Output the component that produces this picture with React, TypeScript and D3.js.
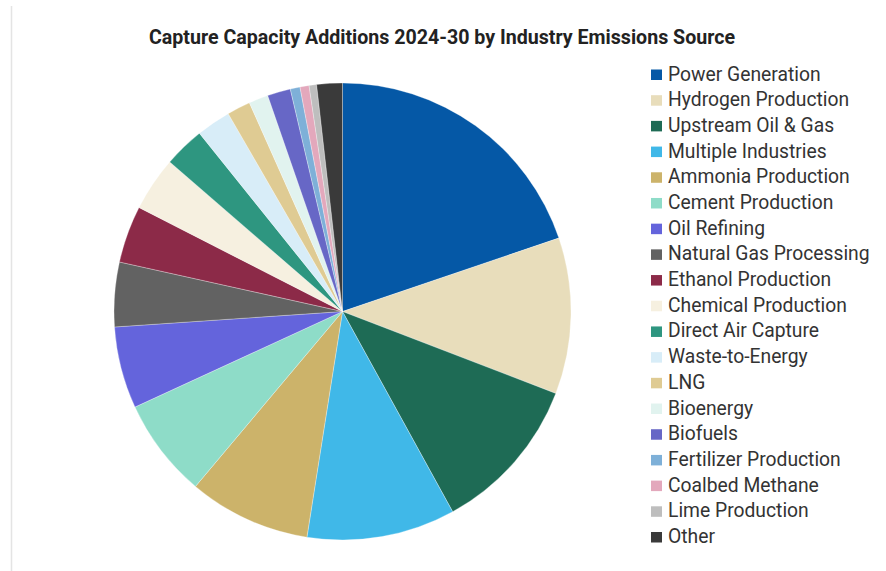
import React from "react";
import * as d3 from "d3";

const categories = [
  "Power Generation",
  "Hydrogen Production",
  "Upstream Oil & Gas",
  "Multiple Industries",
  "Ammonia Production",
  "Cement Production",
  "Oil Refining",
  "Natural Gas Processing",
  "Ethanol Production",
  "Chemical Production",
  "Direct Air Capture",
  "Waste-to-Energy",
  "LNG",
  "Bioenergy",
  "Biofuels",
  "Fertilizer Production",
  "Coalbed Methane",
  "Lime Production",
  "Other",
];

const values = [
  19.8, 11.05, 11.16, 10.5, 8.64, 7.01, 5.79, 4.56, 4.04, 3.84, 2.88, 2.43,
  1.66, 1.37, 1.64, 0.69, 0.64, 0.53, 1.81,
];

const colors = [
  "#0558a6",
  "#e8ddbb",
  "#1e6b55",
  "#40b8e8",
  "#ccb36a",
  "#8edcc8",
  "#6464dc",
  "#626262",
  "#8c2a48",
  "#f6f0e0",
  "#2e9680",
  "#d8edf8",
  "#dfcb93",
  "#e1f3ef",
  "#6767c6",
  "#7eb0d8",
  "#e3a8bc",
  "#bebebe",
  "#3a3a3a",
];

const title = "Capture Capacity Additions 2024-30 by Industry Emissions Source";

export default function App() {
  const W = 886;
  const H = 571;
  const cx = 342.5;
  const cy = 311.5;
  const r = 228.5;

  const data = categories.map((c, i) => ({ name: c, value: values[i], color: colors[i] }));
  const pie = d3.pie<any>().value((d: any) => d.value).sort(null);
  const arcs = pie(data);
  const arcGen = d3.arc<any>().innerRadius(0).outerRadius(r);

  const legendY = d3
    .scalePoint<string>()
    .domain(categories)
    .range([74.5, 537]);

  return (
    <svg
      width={W}
      height={H}
      style={{ position: "absolute", left: 0, top: 0, background: "#fff" }}
    >
      <rect x={0} y={0} width={W} height={H} fill="#ffffff" />
      <line x1={11.5} y1={6} x2={11.5} y2={H} stroke="#e4e4e4" strokeWidth={1.5} />
      <text
        x={149}
        y={44}
        fontFamily="Roboto, 'Liberation Sans Narrow', sans-serif"
        fontWeight={700}
        fontSize={20}
        fill="#222"
        textLength={586}
        lengthAdjust="spacingAndGlyphs"
      >
        {title}
      </text>
      <g transform={`translate(${cx},${cy})`}>
        {arcs.map((a, i) => (
          <path
            key={i}
            d={arcGen(a) as string}
            fill={a.data.color}
            stroke="#ffffff"
            strokeWidth={0.3}
          />
        ))}
      </g>
      <g>
        {categories.map((c, i) => {
          const y = legendY(c) as number;
          return (
            <g key={c}>
              <rect x={651} y={y - 5} width={11} height={10.5} fill={colors[i]} />
              <text
                x={668}
                y={y + 6}
                fontFamily="Roboto, sans-serif"
                fontSize={19.3}
                fill="#333"
              >
                {c}
              </text>
            </g>
          );
        })}
      </g>
    </svg>
  );
}
